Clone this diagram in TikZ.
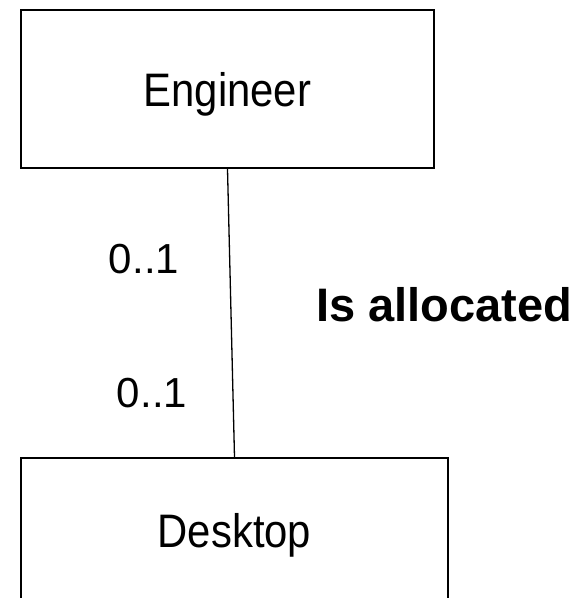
\documentclass[tikz,border=0pt]{standalone}
\usepackage{fontspec}
\setmainfont{Liberation Sans}
\newfontfamily\entityfont[FakeStretch=0.89]{Liberation Sans}
\usepackage{tikz}
\usetikzlibrary{positioning, calc}

\tikzset{
  entitybox/.style={draw, line width=2pt, rectangle, text depth=0pt,
    font=\entityfont\fontsize{47}{50}\selectfont},
  multlabel/.style={anchor=base, font=\fontsize{42}{46}\selectfont},
  rellabel/.style={anchor=base, font=\fontsize{47}{50}\selectfont\bfseries}
}

\begin{document}
\begin{tikzpicture}[x=1pt, y=-1pt]
  \useasboundingbox (0,0) rectangle (587,598);
  \clip (0,0) rectangle (587,598);

  % The two entities
  \node[entitybox, minimum width=413pt, minimum height=158pt] (eng) at (227.5,89) {Engineer};
  \node[entitybox, minimum width=427pt, minimum height=144pt] (desk) at (234.5,530) {Desktop};

  % Relationship line
  \draw[line width=1.3pt] (eng.south) -- (desk.north);

  % Multiplicities
  \node[multlabel] (multeng) at (144,273) {0..1};
  \node[multlabel] (multdesk) at (152,407) {0..1};

  % Relationship name
  \node[rellabel] (relname) at (444.5,321) {Is allocated};
\end{tikzpicture}
\end{document}
